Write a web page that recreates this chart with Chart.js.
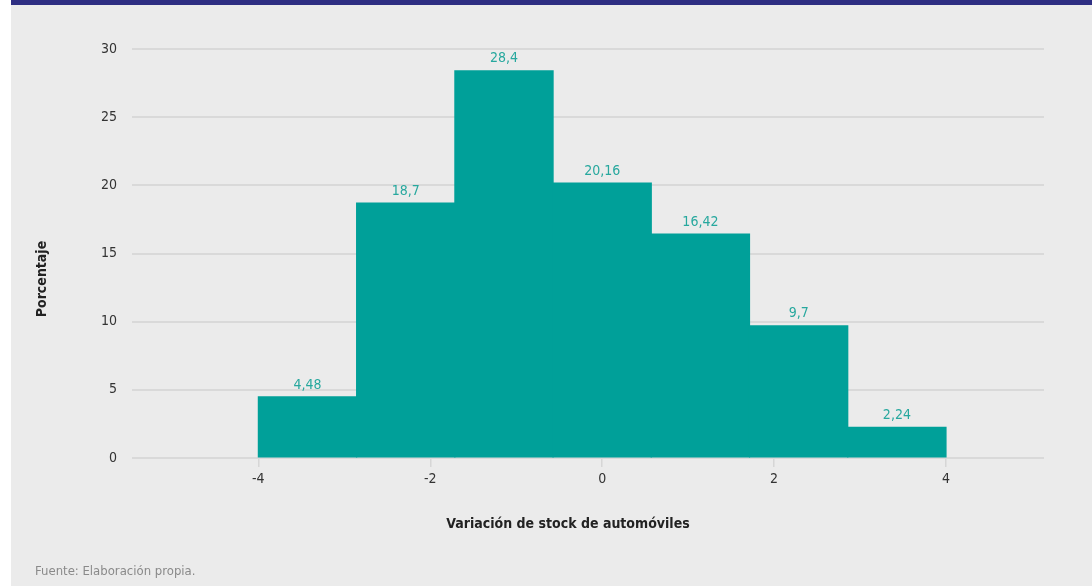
<!DOCTYPE html>
<html lang="es">
<head>
<meta charset="utf-8">
<title>Variación de stock de automóviles</title>
<script src="https://cdn.jsdelivr.net/npm/chart.js@4.4.1/dist/chart.umd.min.js"></script>
<style>
  html, body { margin: 0; padding: 0; background: #fff; }
  .panel {
    position: absolute;
    left: 11px;
    top: 0;
    width: 1081px;
    height: 581px;
    background: #ebebeb;
    border-top: 5px solid #2e2e82;
  }
  canvas { display: block; }
</style>
</head>
<body>
<div class="panel">
  <canvas id="histo" width="1081" height="581"></canvas>
</div>
<script>
(() => {
  "use strict";

  // Bin edges of the histogram and share (%) of each bin
  const binEdges = [-4, -2.857, -1.714, -0.571, 0.571, 1.714, 2.857, 4];
  const shares = [4.48, 18.7, 28.4, 20.16, 16.42, 9.7, 2.24];
  const xTicks = [-4, -2, 0, 2, 4];
  const yTicks = [0, 5, 10, 15, 20, 25, 30];

  const xTitle = "Variación de stock de automóviles";
  const yTitle = "Porcentaje";
  const source = "Fuente: Elaboración propia.";

  const condensed = '"Liberation Sans Narrow", "DejaVu Sans Condensed", "Roboto", sans-serif';
  const teal = "#00a099";
  const labelTeal = "#27a89e";

  const points = shares.map((v, i) => ({
    x: (binEdges[i] + binEdges[i + 1]) / 2,
    y: v,
  }));

  const fmt = (v) => String(v).replace(".", ",");

  // value labels, axis titles and the source note
  const annotations = {
    id: "annotations",
    afterDatasetsDraw(chart) {
      const { ctx } = chart;
      const meta = chart.getDatasetMeta(0);
      ctx.save();
      ctx.font = "14px " + condensed;
      ctx.fillStyle = labelTeal;
      ctx.textAlign = "center";
      ctx.textBaseline = "middle";
      meta.data.forEach((bar, i) => {
        ctx.fillText(fmt(shares[i]), bar.x, bar.y - 12);
      });

      ctx.fillStyle = "#222";
      ctx.font = "bold 14px " + condensed;
      ctx.fillText(xTitle, 557, 519);

      ctx.translate(31, 274);
      ctx.rotate(-Math.PI / 2);
      ctx.fillText(yTitle, 0, 0);
      ctx.restore();

      ctx.save();
      ctx.font = "13px " + condensed;
      ctx.fillStyle = "#8a8a8a";
      ctx.textAlign = "left";
      ctx.textBaseline = "middle";
      ctx.fillText(source, 24, 567);
      ctx.restore();
    },
  };

  const ctx = document.getElementById("histo");
  // eslint-disable-next-line no-unused-vars
  const histo = new Chart(ctx, {
    type: "bar",
    data: {
      datasets: [
        {
          data: points,
          backgroundColor: teal,
          borderWidth: 0,
          inflateAmount: 0.6,
          barPercentage: 1,
          categoryPercentage: 1,
        },
      ],
    },
    options: {
      responsive: false,
      animation: false,
      layout: {
        padding: { top: 44, right: 48, bottom: 0, left: 0 },
      },
      plugins: {
        legend: { display: false },
        tooltip: { enabled: false },
      },
      scales: {
        x: {
          type: "linear",
          offset: false,
          min: -5.47,
          max: 5.14,
          afterFit: (scale) => { scale.height = 128; },
          afterBuildTicks: (scale) => {
            scale.ticks = xTicks.map((v) => ({ value: v }));
          },
          border: { display: false },
          grid: {
            offset: false,
            drawOnChartArea: false,
            drawTicks: true,
            tickLength: 9,
            color: "#d6d6d6",
            lineWidth: 1.5,
          },
          ticks: {
            padding: 4,
            color: "#333",
            font: { family: condensed, size: 14 },
          },
        },
        y: {
          min: 0,
          max: 30,
          afterFit: (scale) => { scale.width = 121; },
          afterBuildTicks: (scale) => {
            scale.ticks = yTicks.map((v) => ({ value: v }));
          },
          border: { display: false },
          grid: {
            drawTicks: false,
            color: "#d9d9d9",
            lineWidth: 2,
          },
          ticks: {
            padding: 15,
            color: "#333",
            font: { family: condensed, size: 14 },
          },
        },
      },
    },
    plugins: [annotations],
  });
})();
</script>
</body>
</html>
